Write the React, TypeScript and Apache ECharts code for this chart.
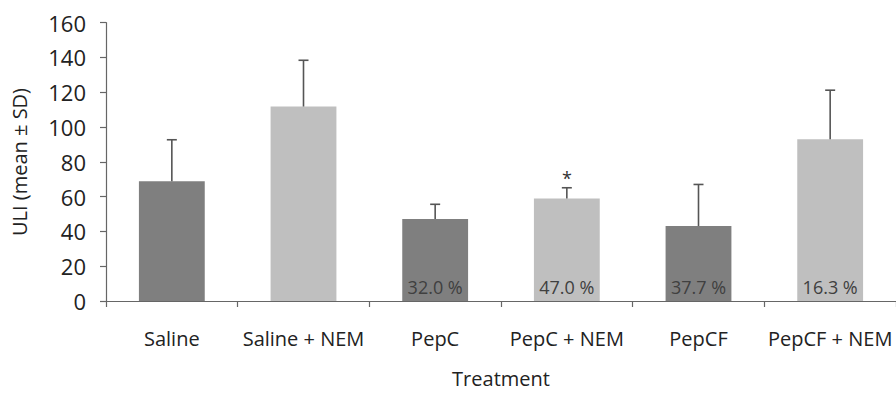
import React, { useEffect, useRef } from "react";
import * as echarts from "echarts";

const categories = ["Saline", "Saline + NEM", "PepC", "PepC + NEM", "PepCF", "PepCF + NEM"];
const means = [68.9, 111.8, 47.1, 59.0, 43.1, 93.0];
const sds = [23.8, 26.6, 8.5, 6.1, 23.9, 28.2];
const percentLabels = ["", "", "32.0 %", "47.0 %", "37.7 %", "16.3 %"];
const significant = [false, false, false, true, false, false];
const yTicks = [0, 20, 40, 60, 80, 100, 120, 140, 160];

const FONT = "'Open Sans', sans-serif";

export default function App() {
  const ref = useRef<HTMLDivElement>(null);
  useEffect(() => {
    if (!ref.current) return;
    const chart = echarts.init(ref.current, undefined, { renderer: "svg" });
    const option = {
      animation: false,
      backgroundColor: "#ffffff",
      textStyle: { fontFamily: FONT },
      grid: { left: 106, top: 22.7, width: 800, height: 282, containLabel: false },
      xAxis: {
        type: "category",
        data: categories,
        boundaryGap: true,
        axisLine: { show: true, lineStyle: { color: "#666", width: 1.2 } },
        axisTick: { show: true, alignWithLabel: false, length: 6, lineStyle: { color: "#666", width: 1.2 } },
        axisLabel: { color: "#222", fontSize: 20, fontFamily: FONT, margin: 27, interval: 0 },
        name: "Treatment",
        nameLocation: "middle",
        nameGap: 67,
        nameTextStyle: { color: "#222", fontSize: 20, fontFamily: FONT },
      },
      yAxis: {
        type: "value",
        min: yTicks[0],
        max: yTicks[yTicks.length - 1],
        interval: 20,
        axisLine: { show: true, lineStyle: { color: "#666", width: 1.2 } },
        axisTick: { show: true, inside: false, length: 6, lineStyle: { color: "#666", width: 1.2 } },
        splitLine: { show: false },
        axisLabel: { color: "#222", fontSize: 22, fontFamily: FONT, margin: 20 },
      },
      graphic: [
        {
          type: "text",
          x: 19,
          y: 162,
          rotation: Math.PI / 2,
          style: {
            text: "ULI (mean ± SD)",
            fontSize: 20,
            fontFamily: FONT,
            fill: "#222",
            align: "center",
            verticalAlign: "middle",
          },
        },
      ],
      series: [
        {
          type: "bar",
          barWidth: "50%",
          data: means.map((v, i) => ({
            value: v,
            itemStyle: { color: i % 2 === 0 ? "#7f7f7f" : "#bfbfbf" },
          })),
          label: {
            show: true,
            position: "insideBottom",
            distance: 5,
            formatter: (p: any) => percentLabels[p.dataIndex],
            color: "#404040",
            fontSize: 18,
            fontFamily: FONT,
          },
        },
        {
          type: "custom",
          data: means.map((m, i) => [i, m, m + sds[i]]),
          z: 5,
          renderItem: (params: any, api: any) => {
            const i = api.value(0);
            const base = api.coord([i, api.value(1)]);
            const top = api.coord([i, api.value(2)]);
            const half = 5;
            const children: any[] = [
              {
                type: "line",
                shape: { x1: base[0], y1: base[1], x2: top[0], y2: top[1] },
                style: { stroke: "#555", lineWidth: 1.6 },
              },
              {
                type: "line",
                shape: { x1: top[0] - half, y1: top[1], x2: top[0] + half, y2: top[1] },
                style: { stroke: "#555", lineWidth: 1.6 },
              },
            ];
            if (significant[params.dataIndex]) {
              children.push({
                type: "text",
                x: top[0],
                y: top[1] - 1,
                style: {
                  text: "*",
                  fontSize: 18,
                  fontFamily: FONT,
                  fill: "#333",
                  align: "center",
                  verticalAlign: "bottom",
                },
              });
            }
            return { type: "group", children };
          },
        },
      ],
    };
    chart.setOption(option as any);
    return () => chart.dispose();
  }, []);
  return (
    <div
      ref={ref}
      style={{ position: "fixed", left: 0, top: 0, width: 896, height: 393, background: "#fff" }}
    />
  );
}
